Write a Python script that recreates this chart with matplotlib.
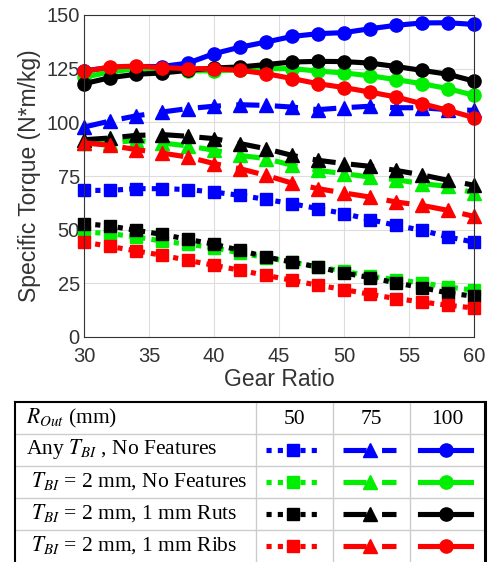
import matplotlib
matplotlib.use('Agg')
import matplotlib.pyplot as plt
import numpy as np

plt.rcParams['font.family'] = ['Liberation Sans', 'DejaVu Sans']
plt.rcParams['mathtext.fontset'] = 'stix'

gear_ratio = np.arange(30, 61, 2)

# R_out = 100 mm (solid, circles)
blue_100 = [124.0, 125.5, 126.0, 126.0, 127.6, 132.0, 135.0, 137.4, 140.0, 141.3, 141.8, 143.6, 145.2, 146.3, 146.4, 145.6]
green_100 = [121.0, 123.5, 125.0, 125.0, 124.0, 124.0, 124.5, 125.0, 125.0, 123.9, 123.0, 121.7, 119.9, 118.0, 115.7, 112.6]
black_100 = [118.0, 120.8, 122.4, 123.0, 124.2, 125.3, 125.8, 126.9, 128.1, 128.4, 128.3, 127.6, 126.0, 124.2, 122.4, 119.2]
red_100 = [123.7, 125.8, 126.2, 125.5, 125.0, 125.0, 124.2, 122.7, 120.4, 118.0, 116.2, 114.1, 111.8, 108.7, 105.6, 102.2]

# R_out = 75 mm (dashed, triangles)
blue_75 = [97.8, 100.6, 103.0, 104.8, 106.4, 107.5, 108.2, 107.9, 107.1, 105.9, 106.8, 107.5, 106.8, 106.8, 105.9, 105.6]
green_75 = [90.5, 90.4, 91.6, 90.4, 89.0, 87.0, 84.6, 83.1, 80.0, 77.6, 76.1, 74.5, 73.3, 71.4, 70.2, 67.1]
black_75 = [91.9, 92.7, 93.9, 94.3, 93.5, 92.4, 90.1, 87.7, 84.6, 82.3, 80.8, 79.5, 77.6, 75.5, 73.0, 70.7]
red_75 = [90.4, 89.3, 87.3, 85.7, 83.8, 80.8, 78.4, 75.3, 71.7, 69.1, 67.1, 65.2, 62.9, 61.3, 59.0, 56.2]

# R_out = 50 mm (dotted, squares)
blue_50 = [68.3, 68.3, 69.1, 69.1, 68.7, 67.5, 66.0, 64.1, 62.1, 59.8, 57.5, 54.7, 52.0, 49.7, 46.6, 44.2]
green_50 = [48.9, 48.2, 46.6, 44.7, 43.2, 41.6, 39.1, 37.0, 34.9, 32.6, 30.7, 28.3, 26.7, 25.2, 23.3, 21.8]
black_50 = [52.8, 51.7, 49.7, 47.8, 45.5, 43.2, 40.4, 37.3, 34.9, 32.6, 29.8, 27.7, 25.2, 23.0, 20.5, 19.0]
red_50 = [44.2, 42.2, 40.1, 38.1, 35.7, 33.4, 31.1, 28.7, 26.4, 24.1, 22.1, 19.9, 17.9, 16.3, 14.8, 13.5]

row_labels = [r'Any $T_{BI}$ , No Features',
              r' $T_{BI}$ = 2 mm, No Features',
              r' $T_{BI}$ = 2 mm, 1 mm Ruts',
              r' $T_{BI}$ = 2 mm, 1 mm Ribs']
row_colors = ['#0000ff', '#00ee00', 'black', '#ff0000']
radii = ['50', '75', '100']

series = {
    '50': [blue_50, green_50, black_50, red_50],
    '75': [blue_75, green_75, black_75, red_75],
    '100': [blue_100, green_100, black_100, red_100],
}
styles = {
    '50': dict(marker='s', ms=8.5, dashes=(1.0, 1.2)),
    '75': dict(marker='^', ms=9.5, dashes=(4.5, 3.0)),
    '100': dict(marker='o', ms=9.5, dashes=()),
}
LW = 3.7

fig = plt.figure(figsize=(4.91, 5.62), dpi=100)
ax = fig.add_axes([84 / 491, 1 - 337 / 562, 390 / 491, 322 / 562])

for r in radii:
    st = styles[r]
    for vals, c in zip(series[r], row_colors):
        ln, = ax.plot(gear_ratio, vals, color=c, lw=LW, marker=st['marker'],
                      ms=st['ms'], mec=c, mfc=c, clip_on=False)
        if st['dashes']:
            ln.set_dashes(st['dashes'])

ax.set_xlim(30, 60)
ax.set_ylim(0, 150)
ax.set_xticks(range(30, 61, 5))
ax.set_yticks(range(0, 151, 25))
ax.grid(True, color='#dddddd', lw=0.8)
ax.set_axisbelow(True)
for s in ax.spines.values():
    s.set_color('#333333')
    s.set_linewidth(0.8)
ax.tick_params(labelsize=14.5, colors='#333333', direction='in', length=0)
ax.tick_params(axis='x', pad=7)
ax.tick_params(axis='y', pad=3)
ax.set_xlabel('Gear Ratio', fontsize=16.5, color='#333333', labelpad=2)
ax.set_ylabel('Specific Torque (N*m/kg)', fontsize=16.5, color='#333333', labelpad=4)

# table with line-style key below the plot
tab = fig.add_axes([15 / 491, 0, 470 / 491, 160 / 562])
tab.set_xlim(15, 485)
tab.set_ylim(562, 402)
tab.axis('off')

col_edges = [15, 256, 333, 410, 485]
row_edges = [402, 434, 466, 498, 530, 562]
for x in col_edges[1:-1]:
    tab.plot([x, x], [402, 562], color='#cccccc', lw=1)
for y in row_edges[1:-1]:
    tab.plot([15, 485], [y, y], color='#cccccc', lw=1)
tab.plot([15, 15], [402, 562], color='black', lw=1.5, clip_on=False)
tab.plot([15, 485], [402, 402], color='black', lw=1.5, clip_on=False)
tab.plot([485, 485], [402, 562], color='black', lw=2.2, clip_on=False)

serif = dict(family='Liberation Serif', fontsize=15.5, color='black')
tab.text(26, 418, r'$R_{Out}$ (mm)', va='center', ha='left', **serif)
for j, r in enumerate(radii):
    xc = (col_edges[j + 1] + col_edges[j + 2]) / 2
    tab.text(xc, 420, r, va='center', ha='center', **serif)

for i, (lab, c) in enumerate(zip(row_labels, row_colors)):
    yc = (row_edges[i + 1] + row_edges[i + 2]) / 2
    tab.text(26, yc - 1, lab, va='center', ha='left', **serif)
    for j, r in enumerate(radii):
        st = styles[r]
        x0, x1 = col_edges[j + 1] + 10, col_edges[j + 2] - 14
        ln, = tab.plot([x0, x1], [yc, yc], color=c, lw=LW)
        if st['dashes']:
            ln.set_dashes(st['dashes'])
        tab.plot([(x0 + x1) / 2], [yc], marker=st['marker'], ms=st['ms'],
                 color=c, ls='none')

fig.savefig('out.png', dpi=100)
